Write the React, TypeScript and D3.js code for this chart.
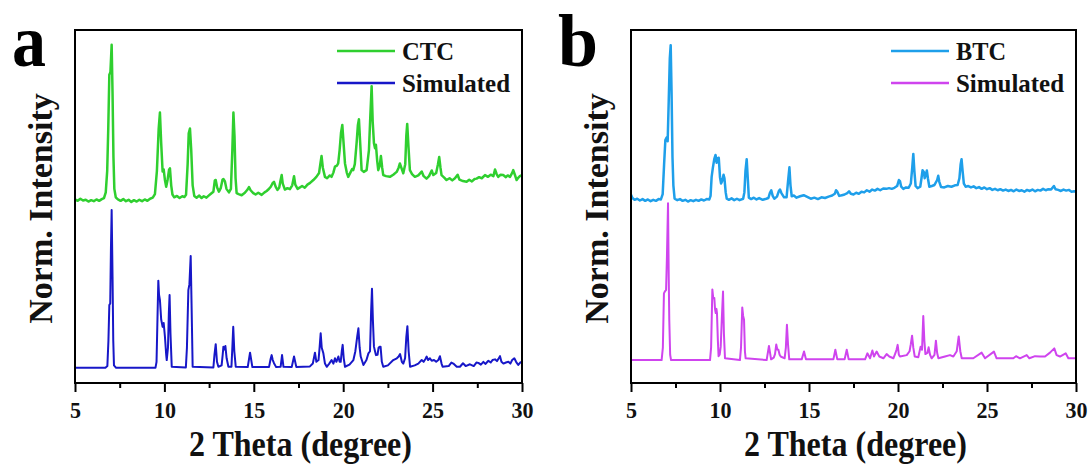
import React, { useEffect, useRef } from 'react';
import * as d3 from 'd3';

// 2-theta ticks
const xTicks = [5, 10, 15, 20, 25, 30];
const xMinorTicks = [7.5, 12.5, 17.5, 22.5, 27.5];

// CTC measured pattern, [2theta, offset norm. intensity]
const ctcPattern: [number, number][] = [
  [5.0, 52.0], [5.15, 51.6], [5.3, 52.2], [5.45, 51.7], [5.6, 51.9], [5.75, 51.4], [5.9, 51.8], [6.05, 51.5],
  [6.2, 52.0], [6.35, 51.6], [6.5, 52.1], [6.62, 52.4], [6.72, 54.0], [6.8, 60], [6.86, 72], [6.92, 87.3],
  [6.98, 88.0], [7.05, 95.8], [7.1, 82], [7.15, 64], [7.2, 55], [7.28, 52.6], [7.4, 52.0], [7.55, 51.6],
  [7.7, 52.1], [7.85, 51.5], [8.0, 51.9], [8.15, 51.3], [8.3, 51.8], [8.45, 51.4], [8.6, 51.9], [8.75, 51.5],
  [8.9, 52.0], [9.05, 51.6], [9.2, 52.2], [9.35, 52.5], [9.47, 53.5], [9.58, 60], [9.68, 72], [9.75, 76.6],
  [9.82, 68], [9.9, 59.9], [9.96, 60.5], [10.03, 57.5], [10.1, 55.6], [10.18, 57.6], [10.26, 60.4], [10.31, 60.8],
  [10.38, 56], [10.45, 53.4], [10.55, 52.6], [10.7, 53.0], [10.85, 52.4], [11.0, 52.9], [11.12, 52.7], [11.21, 53.3],
  [11.3, 62], [11.36, 70.7], [11.43, 72.1], [11.5, 66], [11.58, 56], [11.67, 53.0], [11.8, 52.5], [11.95, 53.1],
  [12.08, 52.4], [12.2, 52.9], [12.35, 52.5], [12.46, 53.0], [12.6, 53.6], [12.74, 54.2], [12.82, 57.4], [12.87, 57.5],
  [12.95, 55.4], [13.05, 54.2], [13.15, 55.2], [13.25, 57.6], [13.3, 57.8], [13.38, 57.2], [13.47, 55.0], [13.61, 54.0],
  [13.72, 55.0], [13.8, 66], [13.86, 76.6], [13.92, 70], [13.98, 58], [14.04, 53.8], [14.15, 53.5], [14.32, 53.2],
  [14.5, 53.9], [14.65, 54.8], [14.73, 55.5], [14.82, 54.6], [14.97, 53.8], [15.1, 53.4], [15.25, 53.9], [15.44, 53.3],
  [15.6, 54.0], [15.72, 54.4], [15.81, 54.8], [15.95, 55.6], [16.05, 56.6], [16.13, 57.0], [16.22, 55.6], [16.32, 54.7],
  [16.42, 55.3], [16.5, 57.5], [16.56, 58.9], [16.62, 56.5], [16.74, 54.8], [16.88, 55.2], [17.02, 54.9], [17.15, 56.0],
  [17.25, 58.6], [17.32, 56.2], [17.45, 55.0], [17.58, 55.4], [17.7, 55.8], [17.85, 55.3], [18.0, 56.2], [18.15, 56.7],
  [18.33, 57.5], [18.5, 58.4], [18.65, 59.5], [18.72, 62], [18.79, 64.3], [18.86, 61], [18.98, 58.4], [19.1, 58.0],
  [19.25, 58.8], [19.35, 58.4], [19.45, 59.6], [19.54, 61.3], [19.65, 61.6], [19.72, 62.2], [19.8, 66], [19.88, 71],
  [19.95, 73.1], [20.02, 68], [20.1, 62.2], [20.2, 59.6], [20.28, 58.4], [20.4, 59.6], [20.5, 60.6], [20.56, 60.3],
  [20.65, 62], [20.75, 68], [20.82, 73], [20.88, 74.7], [20.95, 68], [21.03, 60.3], [21.15, 59.8], [21.31, 60.3],
  [21.44, 66.0], [21.52, 76], [21.59, 84.1], [21.65, 74], [21.72, 67.9], [21.78, 66.5], [21.83, 67.5], [21.9, 63],
  [21.96, 60.3], [22.04, 61.5], [22.11, 64.3], [22.18, 61.0], [22.24, 58.9], [22.4, 58.6], [22.61, 58.4], [22.8, 59.0],
  [22.99, 59.8], [23.1, 61.0], [23.17, 62.2], [23.25, 61.0], [23.36, 59.4], [23.47, 62], [23.53, 70], [23.58, 73.4],
  [23.65, 67], [23.73, 60.3], [23.85, 59.2], [24.01, 58.4], [24.2, 58.8], [24.39, 59.9], [24.5, 58.6], [24.66, 57.9],
  [24.8, 58.6], [24.95, 60.2], [25.04, 58.9], [25.2, 59.5], [25.3, 62], [25.37, 64.0], [25.44, 61], [25.5, 58.9],
  [25.65, 58.2], [25.78, 57.5], [25.95, 58.0], [26.1, 57.4], [26.25, 58.0], [26.4, 59.0], [26.5, 57.6], [26.7, 57.2],
  [26.9, 57.0], [27.05, 57.6], [27.2, 57.1], [27.35, 57.8], [27.46, 57.9], [27.6, 58.3], [27.75, 58.0], [27.93, 58.9],
  [28.1, 58.4], [28.25, 59.0], [28.4, 58.6], [28.49, 60.5], [28.58, 59.2], [28.67, 58.4], [28.8, 59.0], [28.95, 58.9],
  [29.1, 58.3], [29.2, 58.8], [29.33, 58.4], [29.45, 59.5], [29.51, 60.3], [29.6, 59.0], [29.7, 57.5], [29.8, 58.2],
  [29.88, 58.6], [30.0, 58.9],
];

// CTC simulated pattern
const ctcSimulated: [number, number][] = [
  [5.0, 4.3], [6.7, 4.3], [6.81, 4.8], [6.87, 12], [6.92, 22.1], [6.97, 22.5], [7.01, 38], [7.05, 49.0],
  [7.1, 30], [7.14, 12], [7.18, 5.0], [7.3, 4.3], [9.5, 4.3], [9.56, 6], [9.62, 20], [9.66, 29.0],
  [9.7, 25], [9.75, 23.5], [9.82, 18], [9.9, 15.9], [9.96, 17], [10.03, 13.1], [10.1, 8], [10.13, 6.5],
  [10.2, 10], [10.25, 20], [10.29, 24.9], [10.34, 14], [10.41, 4.6], [11.2, 4.4], [11.26, 10], [11.34, 26.3],
  [11.4, 28], [11.47, 36.0], [11.52, 22], [11.58, 4.6], [12.74, 4.4], [12.8, 8], [12.87, 11.0], [12.94, 6],
  [13.02, 4.6], [13.2, 5], [13.26, 8], [13.3, 10.3], [13.36, 9.5], [13.41, 10.5], [13.48, 7], [13.58, 4.6],
  [13.75, 4.6], [13.8, 10], [13.85, 15.9], [13.91, 9], [13.99, 4.6], [14.66, 4.5], [14.79, 8.6], [14.92, 4.5],
  [15.85, 4.5], [15.94, 6.8], [16.0, 7.9], [16.06, 6.5], [16.13, 5.6], [16.25, 4.5], [16.5, 4.6], [16.58, 7.9],
  [16.66, 4.6], [17.12, 4.5], [17.25, 7.5], [17.38, 4.5], [18.14, 4.7], [18.3, 5.5], [18.42, 8.6], [18.5, 6],
  [18.62, 6.5], [18.68, 10], [18.74, 14.1], [18.8, 10], [18.89, 8.4], [18.98, 5.5], [19.08, 4.6], [19.22, 5.5],
  [19.35, 6.5], [19.45, 5.5], [19.54, 7.0], [19.62, 6], [19.73, 7.5], [19.8, 6], [19.86, 6.0], [19.92, 9],
  [19.97, 10.8], [20.03, 7], [20.1, 4.6], [20.35, 5.2], [20.57, 6.5], [20.68, 9], [20.78, 13], [20.85, 15.5],
  [20.92, 10], [20.98, 7.5], [21.13, 5.1], [21.3, 6.5], [21.41, 8.4], [21.5, 9], [21.56, 20], [21.61, 26.7],
  [21.66, 18], [21.72, 10.3], [21.78, 9], [21.83, 7.9], [21.92, 8], [21.98, 10], [22.04, 10.3], [22.09, 10.3],
  [22.16, 6], [22.24, 4.6], [22.5, 5], [22.8, 6.5], [23.0, 7], [23.1, 7.5], [23.18, 8.2], [23.28, 6],
  [23.36, 5.5], [23.46, 7], [23.53, 13], [23.59, 16.1], [23.66, 9], [23.74, 4.6], [24.0, 5], [24.2, 5.5],
  [24.39, 6.5], [24.5, 6], [24.6, 6.8], [24.67, 7.5], [24.75, 6.5], [24.85, 7.0], [24.95, 6.3], [25.08, 6.5],
  [25.2, 6], [25.32, 6.5], [25.41, 7.6], [25.5, 5.5], [25.56, 4.6], [25.9, 4.8], [26.05, 5.8], [26.16, 5.5],
  [26.35, 4.6], [26.53, 4.6], [26.7, 5.6], [26.85, 4.8], [27.09, 5.3], [27.3, 4.8], [27.45, 5.8], [27.56, 5.7],
  [27.7, 5.2], [27.84, 6.0], [27.95, 5.4], [28.12, 6.3], [28.25, 5.8], [28.35, 6.5], [28.49, 6.7], [28.6, 6.2],
  [28.7, 7], [28.77, 7.6], [28.85, 6], [28.96, 5.5], [29.1, 5.8], [29.24, 6.0], [29.35, 5.5], [29.45, 6.5],
  [29.57, 7.0], [29.67, 6], [29.79, 5.1], [29.9, 5.8], [30.0, 6.0],
];

// BTC measured pattern
const btcPattern: [number, number][] = [
  [5.0, 53.3], [5.08, 52.4], [5.2, 51.9], [5.35, 52.2], [5.5, 51.7], [5.65, 52.1], [5.8, 51.6], [5.95, 52.0],
  [6.1, 51.5], [6.25, 51.9], [6.4, 51.6], [6.55, 52.1], [6.68, 52.0], [6.78, 53.5], [6.86, 62], [6.93, 68.8],
  [7.0, 69.5], [7.06, 68.5], [7.12, 80], [7.18, 92], [7.23, 95.7], [7.28, 82], [7.33, 64], [7.38, 56],
  [7.45, 52.2], [7.6, 51.8], [7.75, 52.1], [7.9, 51.6], [8.05, 51.9], [8.2, 51.4], [8.35, 51.8], [8.5, 51.5],
  [8.65, 51.9], [8.8, 51.6], [8.95, 52.0], [9.1, 51.7], [9.25, 52.1], [9.4, 52.0], [9.47, 53.0], [9.53, 58.4],
  [9.6, 61], [9.68, 63.5], [9.75, 64.6], [9.81, 62.4], [9.87, 63.7], [9.93, 63.8], [10.0, 58.3], [10.06, 56.5],
  [10.12, 57.2], [10.2, 59.0], [10.25, 58], [10.32, 54], [10.38, 52.2], [10.5, 51.9], [10.65, 52.3], [10.8, 51.8],
  [10.95, 52.2], [11.1, 51.8], [11.3, 52.2], [11.37, 54], [11.43, 60], [11.5, 63.4], [11.56, 58], [11.62, 52.5],
  [11.75, 52.1], [11.9, 52.5], [12.05, 52.0], [12.2, 52.4], [12.4, 51.9], [12.6, 52.2], [12.72, 52.4], [12.8, 53.8],
  [12.88, 54.6], [12.96, 53.0], [13.05, 52.2], [13.2, 52.8], [13.3, 54.3], [13.37, 54.8], [13.45, 53.8], [13.6, 52.6],
  [13.74, 52.6], [13.82, 57], [13.9, 61.1], [13.96, 56], [14.03, 52.9], [14.15, 53.1], [14.3, 52.5], [14.5, 52.9],
  [14.7, 53.2], [14.9, 52.7], [15.1, 52.2], [15.3, 52.5], [15.5, 52.1], [15.7, 52.6], [15.9, 52.4], [16.1, 52.8],
  [16.3, 53.1], [16.45, 53.6], [16.52, 54.6], [16.59, 54.2], [16.7, 53.0], [16.85, 53.2], [17.0, 53.4], [17.15, 53.8],
  [17.25, 54.3], [17.35, 53.6], [17.5, 53.4], [17.65, 53.9], [17.8, 53.6], [17.95, 54.2], [18.1, 54.0], [18.25, 54.6],
  [18.4, 54.2], [18.55, 54.8], [18.7, 54.5], [18.85, 55.0], [19.0, 54.6], [19.17, 55.1], [19.35, 55.0], [19.5, 55.2],
  [19.65, 55.0], [19.8, 55.3], [19.95, 55.8], [20.05, 57.5], [20.11, 57.2], [20.18, 55.6], [20.3, 55.0], [20.45, 55.4],
  [20.6, 55.3], [20.72, 56.5], [20.8, 61], [20.86, 64.9], [20.92, 60], [20.99, 55.8], [21.1, 55.2], [21.25, 55.6],
  [21.32, 58], [21.38, 60.3], [21.45, 59.8], [21.5, 58], [21.56, 59], [21.62, 60.2], [21.68, 58], [21.76, 55.6],
  [21.9, 55.8], [22.05, 56.1], [22.2, 57.5], [22.26, 58.7], [22.32, 57.0], [22.42, 55.5], [22.6, 55.4], [22.8, 55.8],
  [23.0, 55.6], [23.2, 56.0], [23.35, 56.1], [23.45, 58], [23.52, 62], [23.57, 63.4], [23.63, 60], [23.7, 56.5],
  [23.8, 55.6], [23.95, 55.8], [24.1, 55.4], [24.25, 55.7], [24.4, 55.2], [24.55, 55.5], [24.7, 55.0], [24.85, 55.4],
  [25.0, 54.9], [25.15, 55.2], [25.3, 54.7], [25.45, 55.0], [25.6, 54.6], [25.75, 54.9], [25.9, 54.5], [26.05, 54.8],
  [26.2, 54.4], [26.35, 54.7], [26.5, 54.3], [26.65, 54.8], [26.8, 54.4], [26.95, 54.6], [27.1, 54.2], [27.25, 54.7],
  [27.4, 54.4], [27.55, 54.8], [27.7, 54.3], [27.85, 54.7], [28.0, 54.5], [28.15, 55.0], [28.3, 54.6], [28.45, 54.9],
  [28.6, 54.8], [28.76, 55.8], [28.85, 54.9], [29.0, 54.7], [29.15, 54.4], [29.3, 54.8], [29.45, 54.5], [29.6, 54.7],
  [29.75, 54.2], [29.9, 54.3], [30.0, 54.2],
];

// BTC simulated pattern
const btcSimulated: [number, number][] = [
  [5.0, 6.5], [6.72, 6.5], [6.79, 10], [6.85, 25.4], [6.91, 26], [6.97, 26.3], [7.02, 36], [7.08, 50.9],
  [7.12, 30], [7.15, 17.9], [7.2, 8], [7.25, 6.5], [9.44, 6.5], [9.5, 10], [9.57, 26.5], [9.62, 24],
  [9.68, 24.1], [9.72, 21], [9.76, 19.8], [9.8, 21], [9.83, 19.8], [9.88, 12], [9.92, 7.6], [9.98, 8],
  [10.04, 10.3], [10.1, 18], [10.17, 25.9], [10.22, 14], [10.28, 7.0], [11.12, 6.5], [11.18, 10], [11.25, 21.4],
  [11.3, 19], [11.35, 17.9], [11.4, 9], [11.44, 7.0], [12.62, 6.5], [12.75, 10.5], [12.87, 6.7], [13.02, 7.2],
  [13.09, 8.2], [13.16, 10.9], [13.22, 9.5], [13.28, 9.4], [13.35, 8], [13.41, 7.5], [13.63, 7.0], [13.7, 10],
  [13.76, 16.5], [13.82, 11], [13.89, 6.7], [14.59, 6.7], [14.72, 8.9], [14.83, 6.7], [16.37, 6.7], [16.48, 9.4],
  [16.59, 6.7], [17.0, 6.7], [17.12, 9.4], [17.23, 6.7], [18.15, 6.7], [18.28, 8.4], [18.43, 7.0], [18.56, 9.2],
  [18.65, 7.5], [18.8, 8.9], [18.95, 7.5], [19.18, 7.0], [19.36, 8.2], [19.51, 7.5], [19.74, 7.0], [19.86, 8.5],
  [19.92, 9.5], [19.98, 10.8], [20.05, 8], [20.11, 7.5], [20.49, 7.9], [20.65, 9], [20.72, 11], [20.79, 13.4],
  [20.86, 10], [20.94, 7.5], [21.14, 7.3], [21.27, 10.3], [21.35, 9.4], [21.42, 19.0], [21.48, 12], [21.54, 8.2],
  [21.65, 8.5], [21.72, 10.1], [21.8, 8], [21.89, 7.0], [22.05, 8], [22.13, 12.0], [22.2, 8.5], [22.27, 7.0],
  [22.64, 7.5], [22.92, 7.9], [23.11, 7.5], [23.3, 9], [23.41, 13.2], [23.5, 9], [23.58, 7.0], [24.23, 7.0],
  [24.7, 8.6], [24.89, 7.0], [25.39, 8.9], [25.54, 7.0], [26.48, 7.0], [26.63, 7.6], [26.85, 7.0], [27.23, 7.9],
  [27.38, 7.0], [27.7, 7.6], [27.98, 7.5], [28.26, 7.5], [28.54, 8.6], [28.78, 9.8], [28.91, 7.9], [29.1, 7.5],
  [29.42, 8.4], [29.57, 7.0], [29.94, 7.0], [30.0, 7.0],
];

const FONT = '"Liberation Serif", "Times New Roman", serif';
const TOP = 30;
const BOTTOM = 383;

type PanelProps = {
  left: number;
  right: number;
  letter: string;
  letterX: number;
  letterWidth: number;
  expName: string;
  expNameWidth: number;
  exp: [number, number][];
  sim: [number, number][];
  expColor: string;
  simColor: string;
};

const Panel = ({ left, right, letter, letterX, letterWidth, expName, expNameWidth, exp, sim, expColor, simColor }: PanelProps) => {
  const ref = useRef<SVGGElement>(null);

  useEffect(() => {
    const g = d3.select(ref.current);
    g.selectAll('*').remove();

    const x = d3.scaleLinear().domain([5, 30]).range([left, right]);
    const y = d3.scaleLinear().domain([0, 100]).range([BOTTOM, TOP]);
    const line = d3.line<[number, number]>().x(d => x(d[0])).y(d => y(d[1]));

    g.append('path').datum(sim)
      .attr('d', line).attr('fill', 'none').attr('stroke', simColor)
      .attr('stroke-width', 2).attr('stroke-linejoin', 'round');
    g.append('path').datum(exp)
      .attr('d', line).attr('fill', 'none').attr('stroke', expColor)
      .attr('stroke-width', 2.5).attr('stroke-linejoin', 'round');

    g.append('rect')
      .attr('x', left).attr('y', TOP).attr('width', right - left).attr('height', BOTTOM - TOP)
      .attr('fill', 'none').attr('stroke', '#000').attr('stroke-width', 2);

    const axis = g.append('g').attr('transform', `translate(0,${BOTTOM})`)
      .call(d3.axisBottom(x).tickValues(xTicks).tickSize(9).tickPadding(9).tickSizeOuter(0));
    axis.select('.domain').remove();
    axis.selectAll('line').attr('stroke', '#000').attr('stroke-width', 2);
    axis.selectAll('text')
      .attr('font-family', FONT).attr('font-weight', 'bold').attr('font-size', 24).attr('fill', '#111')
      .attr('textLength', (d: any) => (d >= 10 ? 22 : 11)).attr('lengthAdjust', 'spacingAndGlyphs');

    const minor = g.append('g').attr('transform', `translate(0,${BOTTOM})`)
      .call(d3.axisBottom(x).tickValues(xMinorTicks).tickSize(5).tickFormat(() => '').tickSizeOuter(0));
    minor.select('.domain').remove();
    minor.selectAll('line').attr('stroke', '#000').attr('stroke-width', 2);

    const cx = (left + right) / 2;
    g.append('text')
      .attr('x', cx + 2).attr('y', 456).attr('text-anchor', 'middle')
      .attr('font-family', FONT).attr('font-weight', 'bold').attr('font-size', 36).attr('fill', '#111')
      .attr('textLength', 223).attr('lengthAdjust', 'spacingAndGlyphs')
      .text('2 Theta (degree)');

    g.append('text')
      .attr('transform', `translate(${left - 23},${(TOP + BOTTOM) / 2 + 2}) rotate(-90)`)
      .attr('text-anchor', 'middle')
      .attr('font-family', FONT).attr('font-weight', 'bold').attr('font-size', 34).attr('fill', '#111')
      .text('Norm. Intensity');

    g.append('text')
      .attr('x', letterX).attr('y', 66)
      .attr('font-family', FONT).attr('font-weight', 'bold').attr('font-size', 74).attr('fill', '#000')
      .attr('textLength', letterWidth).attr('lengthAdjust', 'spacingAndGlyphs')
      .text(letter);

    // legend
    const legend = [
      { name: expName, color: expColor, w: expNameWidth, ly: 51, ty: 60 },
      { name: 'Simulated', color: simColor, w: 108, ly: 83, ty: 92 },
    ];
    const lx = right - 185;
    legend.forEach(it => {
      g.append('line')
        .attr('x1', lx).attr('x2', lx + 58).attr('y1', it.ly).attr('y2', it.ly)
        .attr('stroke', it.color).attr('stroke-width', 2.5);
      g.append('text')
        .attr('x', lx + 65).attr('y', it.ty)
        .attr('font-family', FONT).attr('font-weight', 'bold').attr('font-size', 25).attr('fill', '#111')
        .attr('textLength', it.w).attr('lengthAdjust', 'spacingAndGlyphs')
        .text(it.name);
    });
  }, [left, right, letter, exp, sim]);

  return <g ref={ref} />;
};

export default function App() {
  return (
    <svg width={1091} height={465} style={{ position: 'absolute', left: 0, top: 0, background: '#fff' }}>
      <Panel left={75} right={522} letter="a" letterX={12} letterWidth={34}
        expName="CTC" expNameWidth={52} exp={ctcPattern} sim={ctcSimulated}
        expColor="#2fcf2f" simColor="#1717c8" />
      <Panel left={631} right={1076} letter="b" letterX={558} letterWidth={40}
        expName="BTC" expNameWidth={50} exp={btcPattern} sim={btcSimulated}
        expColor="#1e9fea" simColor="#cf44ee" />
    </svg>
  );
}
